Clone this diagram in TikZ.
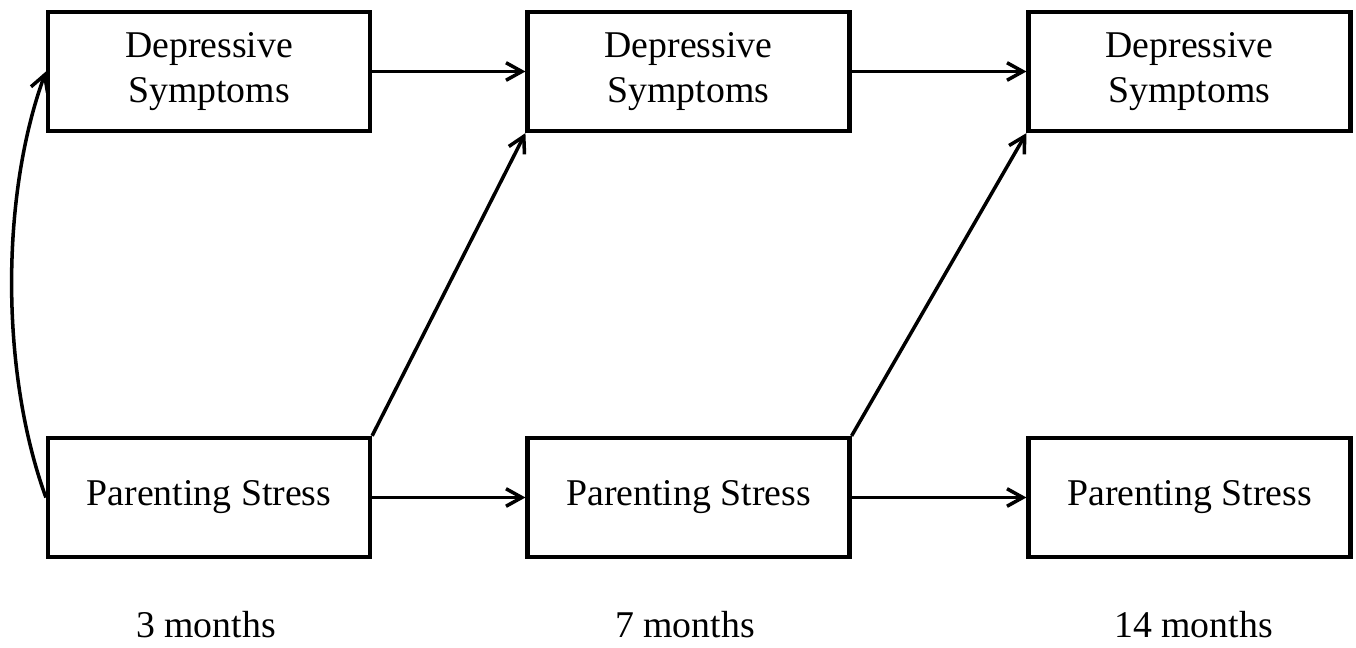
\documentclass[tikz,border=0pt]{standalone}
\usepackage{fontspec}
\setmainfont{Liberation Serif}
\usetikzlibrary{arrows.meta}
\usetikzlibrary{positioning}

\begin{document}
\begin{tikzpicture}[x=0.02cm,y=-0.02cm,
    box/.style={draw,line width=2.4pt,minimum width=6.44cm,minimum height=2.38cm,
      inner sep=0pt,align=center,font=\fontsize{21.5}{25.5}\selectfont},
    wave/.style={font=\fontsize{21.5}{25.5}\selectfont,anchor=base},
    path/.style={line width=2pt,-{Straight Barb[length=9pt,width=10pt,line width=2pt]}}]
  \useasboundingbox (0,0) rectangle (1356,648);
  %% the two measures at each wave
  \foreach \n/\x in {1/209,2/688.5,3/1189.5} {
    \node[box] (d\n) at (\x,71.5) {Depressive\\Symptoms};
    \node[box] (p\n) at (\x,497.5) {Parenting Stress};
  }
  \foreach \n/\x/\t in {1/206/3 months,2/685/7 months,3/1193.5/14 months}
    \node[wave] (w\n) at (\x,637) {\t};
  %% stability paths
  \draw[path] (d1) -- (d2);
  \draw[path] (d2) -- (d3);
  \draw[path] (p1) -- (p2);
  \draw[path] (p2) -- (p3);
  %% cross-lagged paths
  \draw[path] (p1.north east) -- (d2.south west);
  \draw[path] (p2.north east) -- (d3.south west);
  %% covariance at 3 months
  \draw[path,{Straight Barb[length=9pt,width=10pt,line width=2pt]}-]
    (d1.west) to[out=250,in=110,looseness=0.8] (p1.west);
\end{tikzpicture}
\end{document}
